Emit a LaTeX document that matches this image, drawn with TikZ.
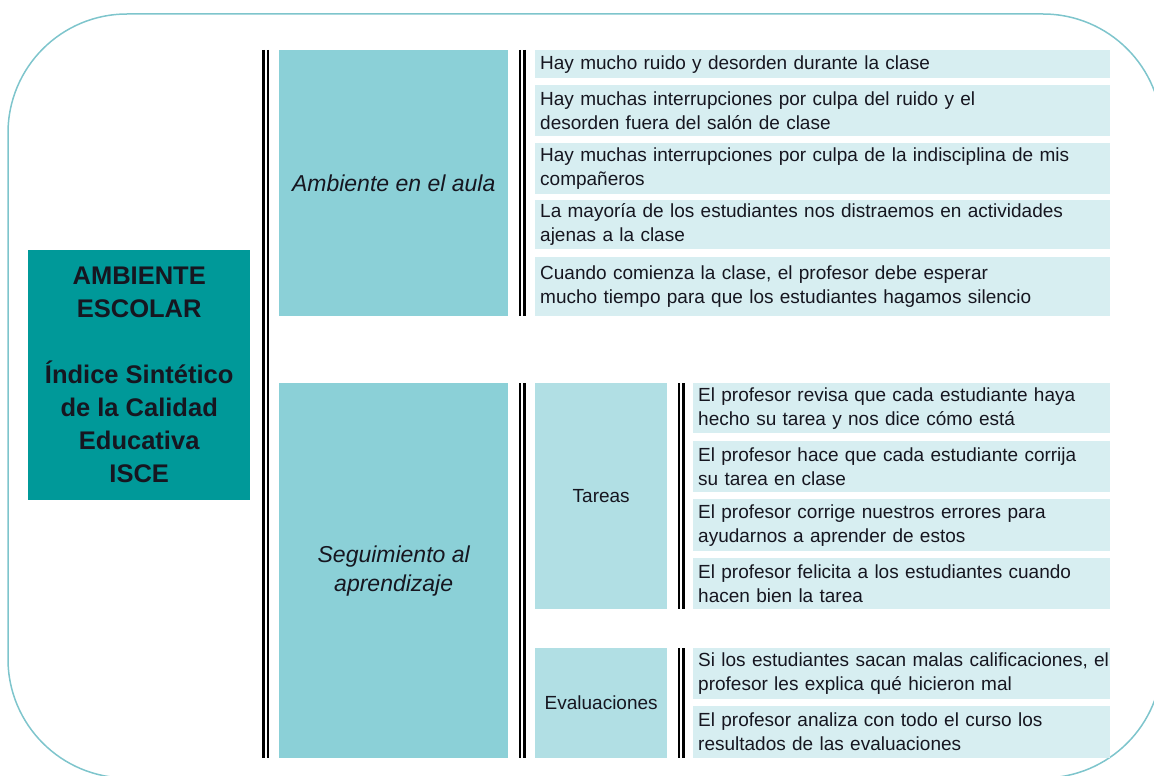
\documentclass[tikz,border=0pt]{standalone}
\usepackage{fontspec}
\setmainfont{Liberation Sans}
\definecolor{ink}{RGB}{22,22,32}
\definecolor{teal1}{RGB}{0,153,153}
\definecolor{teal2}{RGB}{139,208,215}
\definecolor{teal3}{RGB}{177,223,228}
\definecolor{teal4}{RGB}{215,238,241}
\definecolor{rim}{RGB}{126,197,204}
\begin{document}
\begin{tikzpicture}[x=1pt,y=-1pt,
  base/.style={rectangle, inner sep=0pt, anchor=north west, text=ink},
  mainbox/.style={base, fill=teal1, align=center, font=\bfseries\fontsize{25.5}{33}\selectfont},
  dimbox/.style={base, fill=teal2, align=center, font=\itshape\fontsize{23}{29}\selectfont},
  subbox/.style={base, fill=teal3, align=center, font=\fontsize{19}{24}\selectfont},
  itembox/.style={base, fill=teal4, align=left, inner xsep=5pt, font=\fontsize{19}{24}\selectfont},
  bar/.style={line width=2.2pt, black},
  rimline/.style={draw=rim, line width=1.5pt, rounded corners=119pt}
]
\useasboundingbox (0,0) rectangle (1154,776);
\begin{scope}
  \clip (0,0) rectangle (1154,776);
  \draw[rimline] (8,14) rectangle (1162,778);
\end{scope}

% main box
\node[mainbox, minimum width=222pt, minimum height=250pt] (isce) at (28,250)
  {AMBIENTE\\ESCOLAR\\[33pt]Índice Sintético\\de la Calidad\\Educativa\\ISCE};

% dimensions
\node[dimbox, minimum width=229pt, minimum height=266pt] (amb) at (279,50) {Ambiente en el aula};
\node[dimbox, minimum width=229pt, minimum height=375pt] (seg) at (279,383) {Seguimiento al\\aprendizaje};

% sub dimensions
\node[subbox, minimum width=132pt, minimum height=226pt] (tar) at (535,383) {Tareas};
\node[subbox, minimum width=132pt, minimum height=110pt] (eva) at (535,648) {Evaluaciones};

% ambiente items
\node[itembox, text width=565pt, minimum height=28pt] (a1) at (535,50)
  {Hay mucho ruido y desorden durante la clase};
\node[itembox, text width=565pt, minimum height=51pt] (a2) at (535,85)
  {Hay muchas interrupciones por culpa del ruido y el\\desorden fuera del salón de clase};
\node[itembox, text width=565pt, minimum height=51pt] (a3) at (535,143)
  {Hay muchas interrupciones por culpa de la indisciplina de mis\\compañeros};
\node[itembox, text width=565pt, minimum height=49pt] (a4) at (535,200)
  {La mayoría de los estudiantes nos distraemos en actividades\\ajenas a la clase};
\node[itembox, text width=565pt, minimum height=59pt] (a5) at (535,257)
  {Cuando comienza la clase, el profesor debe esperar\\mucho tiempo para que los estudiantes hagamos silencio};

% tareas items
\node[itembox, text width=407pt, minimum height=50pt] (t1) at (693,383)
  {\mbox{El profesor revisa que cada estudiante haya}\\hecho su tarea y nos dice cómo está};
\node[itembox, text width=407pt, minimum height=51pt] (t2) at (693,441)
  {\mbox{El profesor hace que cada estudiante corrija}\\su tarea en clase};
\node[itembox, text width=407pt, minimum height=52pt] (t3) at (693,499)
  {\mbox{El profesor corrige nuestros errores para}\\ayudarnos a aprender de estos};
\node[itembox, text width=407pt, minimum height=51pt] (t4) at (693,558)
  {\mbox{El profesor felicita a los estudiantes cuando}\\hacen bien la tarea};

% evaluaciones items
\node[itembox, text width=407pt, minimum height=51pt] (e1) at (693,648)
  {\mbox{Si los estudiantes sacan malas calificaciones, el}\\profesor les explica qué hicieron mal};
\node[itembox, text width=407pt, minimum height=52pt] (e2) at (693,706)
  {\mbox{El profesor analiza con todo el curso los}\\resultados de las evaluaciones};

% double bars
\foreach \s in {-15.5pt,-11pt}{
  \draw[bar] ([xshift=\s]amb.north west) -- ([xshift=\s]seg.south west);
}
\foreach \s in {11.5pt,16pt}{
  \draw[bar] ([xshift=\s]amb.north east) -- ([xshift=\s]amb.south east);
  \draw[bar] ([xshift=\s]seg.north east) -- ([xshift=\s]seg.south east);
  \draw[bar] ([xshift=\s]tar.north east) -- ([xshift=\s]tar.south east);
  \draw[bar] ([xshift=\s]eva.north east) -- ([xshift=\s]eva.south east);
}
\end{tikzpicture}
\end{document}
